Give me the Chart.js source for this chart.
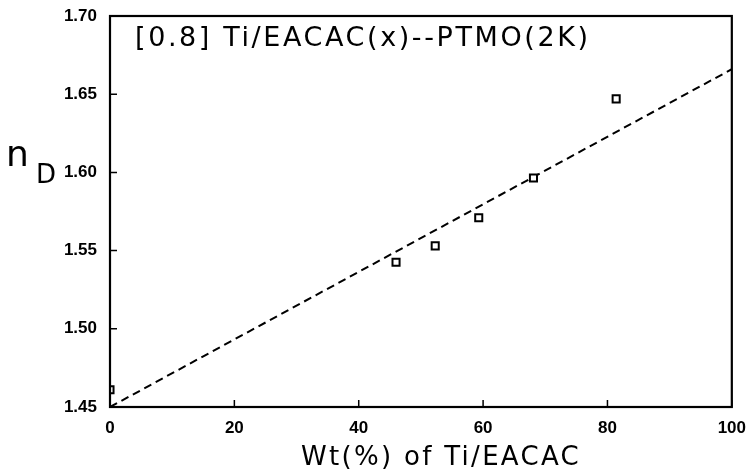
<!DOCTYPE html>
<html>
<head>
<meta charset="utf-8">
<script src="https://cdn.jsdelivr.net/npm/chart.js@4.4.1/dist/chart.umd.min.js"></script>
<style>
  html, body { margin: 0; padding: 0; background: #fff; }
  #wrap { width: 749px; height: 475px; }
</style>
</head>
<body>
<div id="wrap"><canvas id="chart" width="749" height="475"></canvas></div>
<script>
// measured refractive index vs. Ti/EACAC content
const wtPercent = [0, 46.0, 52.3, 59.3, 68.1, 81.4];
const refIndex = [1.461, 1.5425, 1.553, 1.571, 1.5964, 1.647];

// linear fit drawn as dashed line
const fitX = [0, 100];
const fitY = [1.45, 1.666];

const xTicks = [0, 20, 40, 60, 80, 100];
const yTicks = [1.45, 1.50, 1.55, 1.60, 1.65, 1.70];

const titleText = '[0.8] Ti/EACAC(x)--PTMO(2K)';
const xTitle = 'Wt(%) of Ti/EACAC';

const tickFont = { family: 'Liberation Sans Narrow, Liberation Sans, Arial', size: 17, weight: 'bold' };

// inward ticks, frame and free text
const decorations = {
  id: 'decorations',
  afterDraw(chart) {
    const { ctx, chartArea: a, scales } = chart;
    ctx.save();
    ctx.strokeStyle = '#000';
    ctx.lineWidth = 2.2;
    ctx.strokeRect(a.left, a.top, a.right - a.left, a.bottom - a.top);

    ctx.lineWidth = 1.5;
    ctx.beginPath();
    xTicks.forEach(v => {
      const px = scales.x.getPixelForValue(v);
      ctx.moveTo(px, a.bottom);
      ctx.lineTo(px, a.bottom - 7);
    });
    yTicks.forEach(v => {
      const py = scales.y.getPixelForValue(v);
      ctx.moveTo(a.left, py);
      ctx.lineTo(a.left + 7, py);
    });
    ctx.stroke();

    ctx.fillStyle = '#000';
    ctx.textBaseline = 'alphabetic';
    ctx.textAlign = 'left';
    ctx.font = '27px "DejaVu Sans", sans-serif';
    ctx.letterSpacing = '2.6px';
    ctx.fillText(titleText, 135, 46);

    ctx.font = '26px "DejaVu Sans", sans-serif';
    ctx.letterSpacing = '2.3px';
    ctx.textAlign = 'center';
    ctx.fillText(xTitle, 441, 465);

    // n with subscript D
    ctx.letterSpacing = '0px';
    ctx.textAlign = 'left';
    ctx.font = '36px "DejaVu Sans", sans-serif';
    ctx.fillText('n', 6, 166);
    ctx.font = '26px "DejaVu Sans", sans-serif';
    ctx.fillText('D', 36, 183);
    ctx.restore();
  }
};

new Chart(document.getElementById('chart'), {
  type: 'scatter',
  data: {
    datasets: [
      {
        data: wtPercent.map((x, i) => ({ x, y: refIndex[i] })),
        pointStyle: 'rect',
        pointRadius: 5,
        pointBorderWidth: 2,
        pointBorderColor: '#000',
        pointBackgroundColor: '#fff',
        showLine: false
      },
      {
        data: fitX.map((x, i) => ({ x, y: fitY[i] })),
        showLine: true,
        borderColor: '#000',
        borderWidth: 2,
        borderDash: [8, 5],
        pointRadius: 0
      }
    ]
  },
  plugins: [decorations],
  options: {
    responsive: false,
    animation: false,
    layout: { padding: { top: 16, right: 16, left: 0, bottom: 0 } },
    plugins: { legend: { display: false }, tooltip: { enabled: false } },
    scales: {
      x: {
        type: 'linear',
        min: 0,
        max: 100,
        afterBuildTicks: s => { s.ticks = xTicks.map(v => ({ value: v })); },
        afterFit: s => { s.height = 68; },
        grid: { display: false },
        border: { display: false },
        ticks: { color: '#000', font: tickFont, padding: 3, callback: v => String(v) }
      },
      y: {
        type: 'linear',
        min: 1.45,
        max: 1.70,
        afterBuildTicks: s => { s.ticks = yTicks.map(v => ({ value: v })); },
        afterFit: s => { s.width = 110; },
        grid: { display: false },
        border: { display: false },
        ticks: { color: '#000', font: tickFont, padding: 5, callback: v => v.toFixed(2) }
      }
    }
  }
});
</script>
</body>
</html>
